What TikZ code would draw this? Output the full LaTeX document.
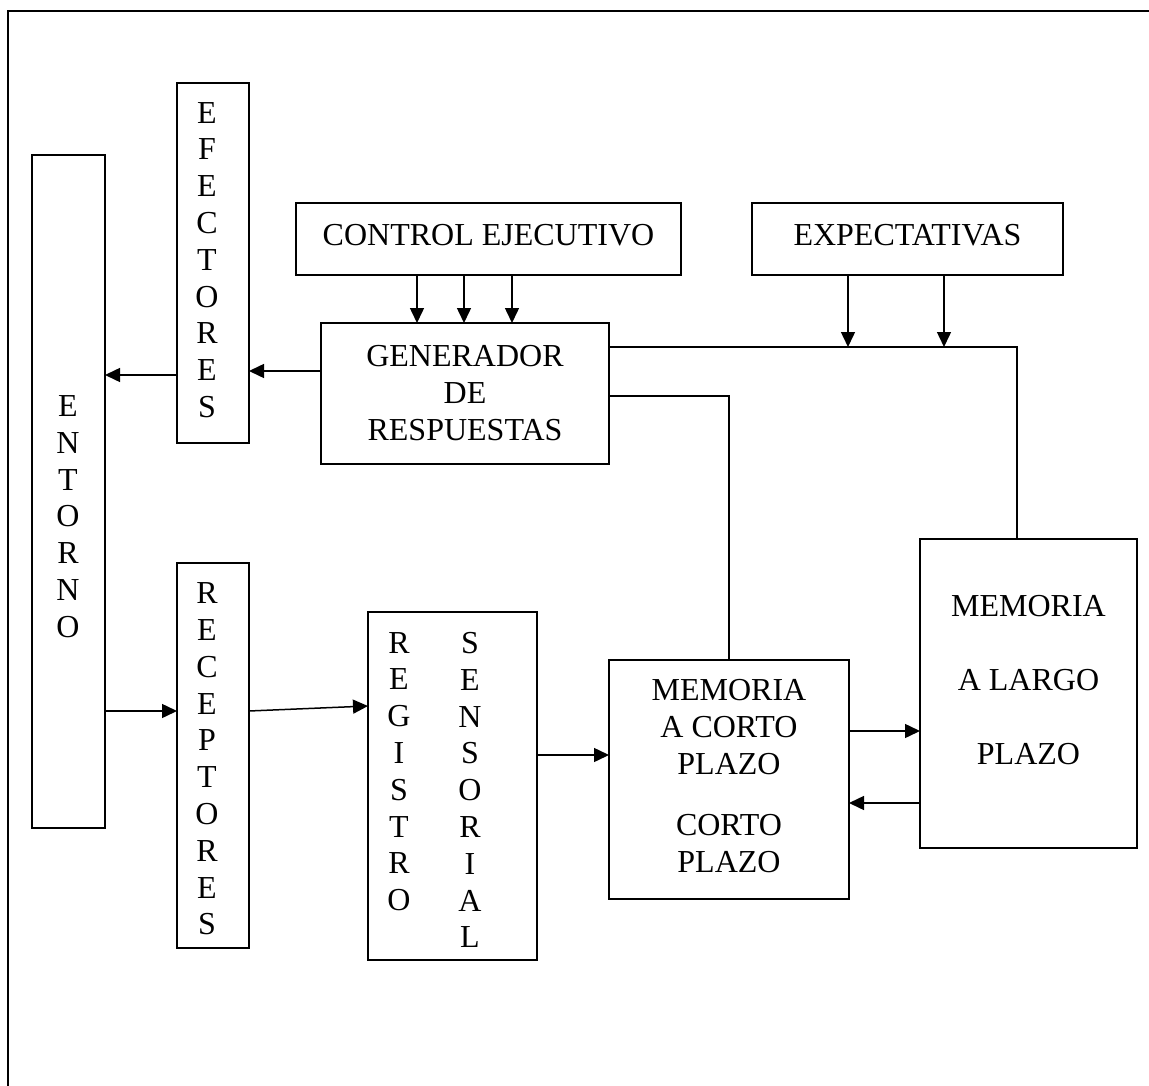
\documentclass[tikz,border=0pt]{standalone}
\usepackage{fontspec}
\setmainfont{Liberation Serif}
\usetikzlibrary{arrows.meta}
\begin{document}
\begin{tikzpicture}[x=1pt,y=-1pt,
  box/.style={draw, line width=1.7pt, inner sep=0pt, outer sep=0pt},
  txt/.style={inner sep=0pt, outer sep=0pt, align=center, font=\fontsize{32}{36.8}\selectfont},
  conn/.style={line width=1.5pt},
  arr/.style={line width=1.5pt, -{Triangle[length=15pt,width=14pt]}}]
\useasboundingbox (0,0) rectangle (1149,1086);
% outer frame (cut off at right and bottom)
\coordinate (fr1) at (8,1086);
\coordinate (fr2) at (8,11);
\coordinate (fr3) at (1149,11);
\draw[line width=1.8pt] (fr1) -- (fr2) -- (fr3);
% boxes
\node[box, minimum width=73pt, minimum height=673pt] (ent) at (68.5,491.5) {};
\node[box, minimum width=72pt, minimum height=360pt] (efe) at (213,263) {};
\node[box, minimum width=72pt, minimum height=385pt] (rec) at (213,755.5) {};
\node[box, minimum width=169pt, minimum height=348pt] (reg) at (452.5,786) {};
\node[box, minimum width=385pt, minimum height=72pt] (ctl) at (488.5,239) {};
\node[box, minimum width=288pt, minimum height=141pt] (gen) at (465,393.5) {};
\node[box, minimum width=311pt, minimum height=72pt] (exp) at (907.5,239) {};
\node[box, minimum width=240pt, minimum height=239pt] (cor) at (729,779.5) {};
\node[box, minimum width=217pt, minimum height=309pt] (lar) at (1028.5,693.5) {};
% texts
\node[txt] (entT) at (68,516.5) {E\\N\\T\\O\\R\\N\\O};
\node[txt] (efeT) at (207,260) {E\\F\\E\\C\\T\\O\\R\\E\\S};
\node[txt] (recT) at (207,759) {R\\E\\C\\E\\P\\T\\O\\R\\E\\S};
\node[txt] (regT1) at (399,771.5) {R\\E\\G\\I\\S\\T\\R\\O};
\node[txt] (regT2) at (470,790) {S\\E\\N\\S\\O\\R\\I\\A\\L};
\node[txt] (ctlT) at (488.5,235) {CONTROL EJECUTIVO};
\node[txt] (genT) at (465,393) {GENERADOR\\DE\\RESPUESTAS};
\node[txt] (expT) at (907.5,235) {EXPECTATIVAS};
\node[txt] (corT) at (729,776) {MEMORIA\\A CORTO\\PLAZO\\[24pt]CORTO\\PLAZO};
\node[txt] (larT) at (1028.5,680) {MEMORIA\\[36.8pt]A LARGO\\[36.8pt]PLAZO};
% connectors
\draw[arr] ([yshift=22.5pt]gen.west) -- ([yshift=22.5pt]gen.west -| efe.east);
\draw[arr] ([yshift=-112pt]efe.west) -- ([yshift=-112pt]efe.west -| ent.east);
\draw[arr] ([yshift=-219.5pt]ent.east) -- ([yshift=-219.5pt]ent.east -| rec.west);
\draw[arr] ([yshift=44.5pt]rec.east) -- ([yshift=80pt]reg.west);
\draw[arr] ([yshift=31pt]reg.east) -- ([yshift=31pt]reg.east -| cor.west);
\draw[arr] ([yshift=48.5pt]cor.east) -- ([yshift=48.5pt]cor.east -| lar.west);
\draw[arr] ([yshift=-109.5pt]lar.west) -- ([yshift=-109.5pt]lar.west -| cor.east);
\foreach \dx in {-71.5,-24.5,23.5}
  \draw[arr] ([xshift=\dx pt]ctl.south) -- ([xshift=\dx pt]ctl.south |- gen.north);
\coordinate (genR) at ([yshift=46.5pt]gen.east);
\draw[conn] (genR) -| ([xshift=-11.5pt]lar.north);
\draw[conn] ([yshift=-2.5pt]gen.east) -| (cor.north);
\foreach \dx in {-59.5,36.5}
  \draw[arr] ([xshift=\dx pt]exp.south) -- ([xshift=\dx pt]exp.south |- genR);
\end{tikzpicture}
\end{document}
